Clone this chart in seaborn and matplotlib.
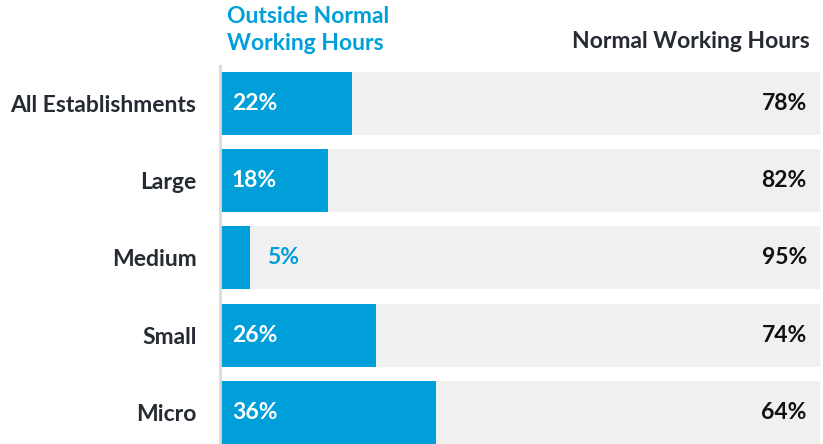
import matplotlib
matplotlib.use("Agg")
import matplotlib.pyplot as plt
import seaborn as sns
import pandas as pd

categories = ["All Establishments", "Large", "Medium", "Small", "Micro"]
outside = [22, 18, 5, 26, 36]
normal = [78, 82, 95, 74, 64]

BLUE = "#009FD9"
GRAY = "#F0F0F0"
DARK = "#252A33"
FS = 16.5

sns.set_theme(style="white")
plt.rcParams["font.family"] = ["Lato", "DejaVu Sans"]
plt.rcParams["font.weight"] = "bold"

df = pd.DataFrame({"cat": categories, "outside": outside, "normal": normal})
df["total"] = df["outside"] + df["normal"]

fig = plt.figure(figsize=(8.23, 4.44), dpi=100)
ax = fig.add_axes([220 / 823, 0, 603 / 823, (444 - 66) / 444])

sns.barplot(data=df, x="total", y="cat", orient="h", color=GRAY, width=0.815,
            saturation=1, ax=ax, linewidth=0)
sns.barplot(data=df, x="outside", y="cat", orient="h", color=BLUE, width=0.815,
            saturation=1, ax=ax, linewidth=0)

ax.set_xlim(0, 100.5)
ax.set_ylim(4.408, -0.485)
ax.set_xlabel("")
ax.set_ylabel("")
ax.set_xticks([])
ax.tick_params(axis="y", length=0, pad=17)
for lab in ax.get_yticklabels():
    lab.set_fontsize(FS)
    lab.set_fontweight("bold")
    lab.set_color(DARK)

for s in ["top", "right", "bottom"]:
    ax.spines[s].set_visible(False)
ax.spines["left"].set_color("#D9D9D9")
ax.spines["left"].set_linewidth(2)
ax.spines["left"].set_zorder(5)

for i, (o, n) in enumerate(zip(outside, normal)):
    if o >= 10:
        ax.text(2, i, f"{o}%", color="white", fontsize=FS, fontweight="bold",
                va="center", ha="left")
    else:
        ax.text(o + 2.8, i, f"{o}%", color=BLUE, fontsize=FS, fontweight="bold",
                va="center", ha="left")
    ax.text(97.8, i, f"{n}%", color="#111111", fontsize=FS, fontweight="bold",
            va="center", ha="right")

fig.text(227 / 823, 1 - 30 / 444, "Outside Normal\nWorking Hours", color=BLUE,
         fontsize=FS, fontweight="bold", ha="left", va="center", linespacing=1.32)
fig.text(810 / 823, 1 - 42 / 444, "Normal Working Hours", color=DARK,
         fontsize=FS, fontweight="bold", ha="right", va="center")

fig.savefig("out.png", dpi=100)
